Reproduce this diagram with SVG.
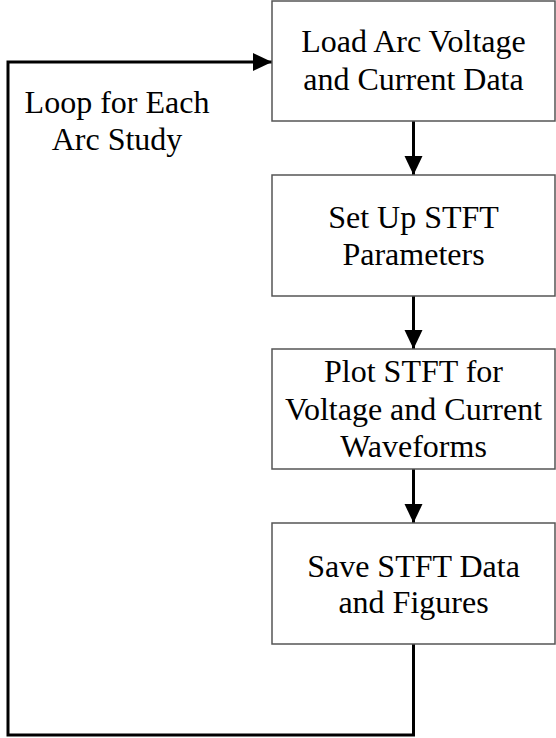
<svg xmlns="http://www.w3.org/2000/svg" width="556" height="738" viewBox="0 0 556 738">
  <style>
    .box { fill: #ffffff; stroke: #555555; stroke-width: 1.5; }
    .lbl { font-family: "Liberation Serif", "Times New Roman", serif; font-size: 32px; fill: #000000; text-anchor: middle; }
    .wire { fill: none; stroke: #000000; stroke-width: 3; }
  </style>
  <defs>
    <marker id="head" markerUnits="userSpaceOnUse" markerWidth="20" markerHeight="20" refX="19" refY="9" orient="auto">
      <path d="M0,0 L19,9 L0,18 Z" fill="#000000"/>
    </marker>
  </defs>
  <rect width="556" height="738" fill="#ffffff"/>

  <g id="connectors">
    <line class="wire" x1="413.5" y1="121" x2="413.5" y2="175" marker-end="url(#head)"/>
    <line class="wire" x1="413.5" y1="296" x2="413.5" y2="349" marker-end="url(#head)"/>
    <line class="wire" x1="413.5" y1="469" x2="413.5" y2="523" marker-end="url(#head)"/>
    <polyline class="wire" points="413.5,644 413.5,735 8,735 8,62 272,62" marker-end="url(#head)"/>
  </g>

  <g id="loop-label">
    <text class="lbl" x="117" y="113">Loop for Each</text>
    <text class="lbl" x="117" y="150">Arc Study</text>
  </g>

  <g id="load-data">
    <rect class="box" x="272" y="1" width="283" height="120"/>
    <text class="lbl" x="413.5" y="52">Load Arc Voltage</text>
    <text class="lbl" x="413.5" y="90">and Current Data</text>
  </g>

  <g id="setup-stft">
    <rect class="box" x="272" y="175" width="283" height="121"/>
    <text class="lbl" x="413.5" y="228">Set Up STFT</text>
    <text class="lbl" x="413.5" y="265">Parameters</text>
  </g>

  <g id="plot-stft">
    <rect class="box" x="272" y="349" width="283" height="120"/>
    <text class="lbl" x="413.5" y="382">Plot STFT for</text>
    <text class="lbl" x="413.5" y="420">Voltage and Current</text>
    <text class="lbl" x="413.5" y="457">Waveforms</text>
  </g>

  <g id="save-stft">
    <rect class="box" x="272" y="523" width="283" height="121"/>
    <text class="lbl" x="413.5" y="577">Save STFT Data</text>
    <text class="lbl" x="413.5" y="613">and Figures</text>
  </g>
</svg>
